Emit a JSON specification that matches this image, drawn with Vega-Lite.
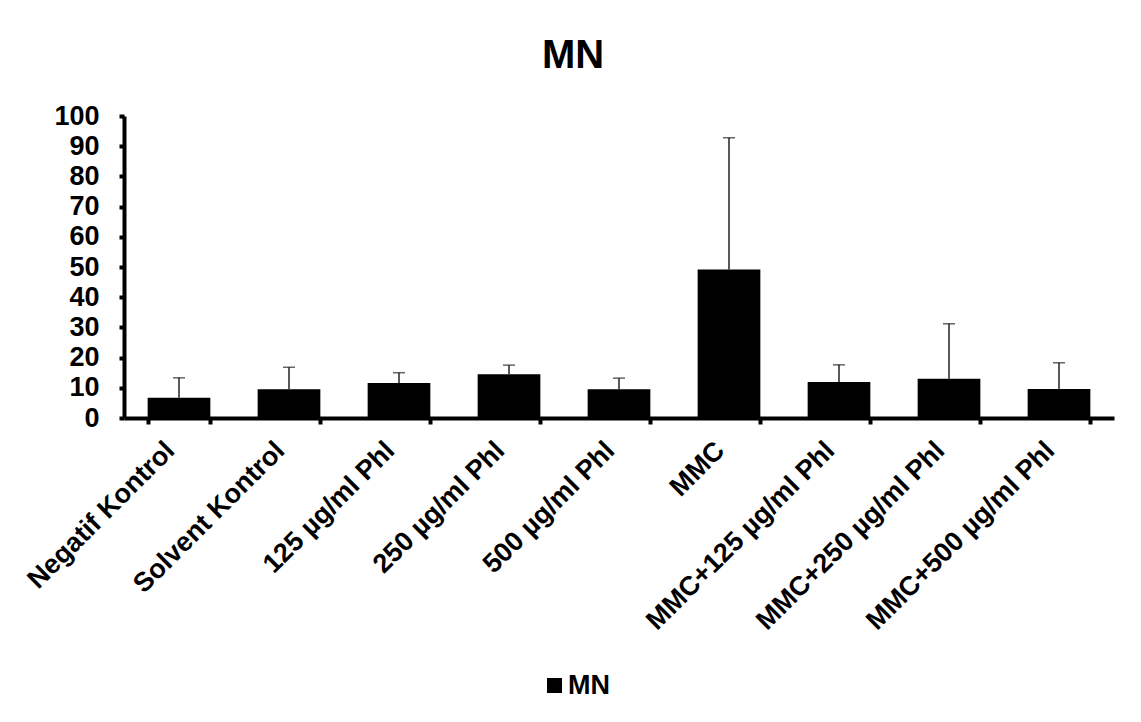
{
  "$schema": "https://vega.github.io/schema/vega-lite/v6.json",
  "autosize": {"type": "none"},
  "width": 990,
  "height": 302,
  "padding": {"left": 124, "top": 116, "right": 27, "bottom": 304},
  "background": "white",
  "title": {
    "text": "MN",
    "font": "Liberation Sans",
    "fontSize": 40,
    "fontWeight": "bold",
    "color": "black",
    "anchor": "middle",
    "dx": -46,
    "offset": -6,
    "baseline": "alphabetic"
  },
  "config": {
    "view": {"stroke": null},
    "font": "Liberation Sans",
    "axisY": {"labelOverlap": false}
  },
  "data": {
    "values": [
      {"group": "Negatif Kontrol", "mean": 6.7, "upper": 13.3, "series": "MN"},
      {"group": "Solvent Kontrol", "mean": 9.5, "upper": 16.8, "series": "MN"},
      {"group": "125 µg/ml Phl", "mean": 11.6, "upper": 15.0, "series": "MN"},
      {"group": "250 µg/ml Phl", "mean": 14.5, "upper": 17.5, "series": "MN"},
      {"group": "500 µg/ml Phl", "mean": 9.5, "upper": 13.2, "series": "MN"},
      {"group": "MMC", "mean": 49.2, "upper": 92.8, "series": "MN"},
      {"group": "MMC+125 µg/ml Phl", "mean": 11.9, "upper": 17.6, "series": "MN"},
      {"group": "MMC+250 µg/ml Phl", "mean": 13.0, "upper": 31.2, "series": "MN"},
      {"group": "MMC+500 µg/ml Phl", "mean": 9.6, "upper": 18.3, "series": "MN"}
    ]
  },
  "encoding": {
    "x": {
      "field": "group",
      "type": "nominal",
      "sort": null,
      "scale": {"paddingInner": 0.43, "paddingOuter": 0.215},
      "axis": {
        "title": null,
        "labelAngle": -45,
        "labelAlign": "right",
        "labelBaseline": "middle",
        "labelFont": "Liberation Sans",
        "labelFontSize": 27,
        "labelFontWeight": "bold",
        "labelColor": "black",
        "labelPadding": 22,
        "labelOffset": -9,
        "labelOverlap": false,
        "labelLimit": 0,
        "tickBand": "extent",
        "tickSize": 6,
        "tickWidth": 4,
        "tickColor": "black",
        "domainColor": "black",
        "domainWidth": 4
      }
    },
    "y": {
      "field": "mean",
      "type": "quantitative",
      "scale": {"domain": [0, 100], "nice": false},
      "axis": {
        "title": null,
        "values": [0, 10, 20, 30, 40, 50, 60, 70, 80, 90, 100],
        "labelOverlap": false,
        "grid": false,
        "labelFont": "Liberation Sans",
        "labelFontSize": 27,
        "labelFontWeight": "bold",
        "labelColor": "black",
        "labelPadding": 20,
        "tickSize": 5,
        "tickWidth": 4,
        "tickColor": "black",
        "domainColor": "black",
        "domainWidth": 4
      }
    }
  },
  "layer": [
    {
      "mark": {"type": "bar", "color": "black"},
      "encoding": {
        "color": {
          "field": "series",
          "type": "nominal",
          "scale": {"range": ["black"]},
          "legend": {
            "title": null,
            "orient": "none",
            "legendX": 417,
            "legendY": 556,
            "padding": 0,
            "symbolType": "square",
            "symbolSize": 225,
            "symbolStrokeWidth": 0,
            "labelFont": "Liberation Sans",
            "labelFontSize": 27,
            "labelFontWeight": "bold",
            "labelColor": "black",
            "labelOffset": 0
          }
        }
      }
    },
    {
      "mark": {"type": "rule", "color": "#222222", "strokeWidth": 1.5},
      "encoding": {
        "y2": {"field": "upper"}
      }
    },
    {
      "mark": {"type": "tick", "color": "#222222", "thickness": 1.5, "size": 12, "orient": "horizontal"},
      "encoding": {
        "y": {
          "field": "upper",
          "type": "quantitative",
          "scale": {"domain": [0, 100], "nice": false},
          "axis": {
            "title": null,
            "values": [0, 10, 20, 30, 40, 50, 60, 70, 80, 90, 100],
            "labelOverlap": false,
            "grid": false,
            "labelFont": "Liberation Sans",
            "labelFontSize": 27,
            "labelFontWeight": "bold",
            "labelColor": "black",
            "labelPadding": 20,
            "tickSize": 5,
            "tickWidth": 4,
            "tickColor": "black",
            "domainColor": "black",
            "domainWidth": 4
          }
        }
      }
    }
  ]
}
